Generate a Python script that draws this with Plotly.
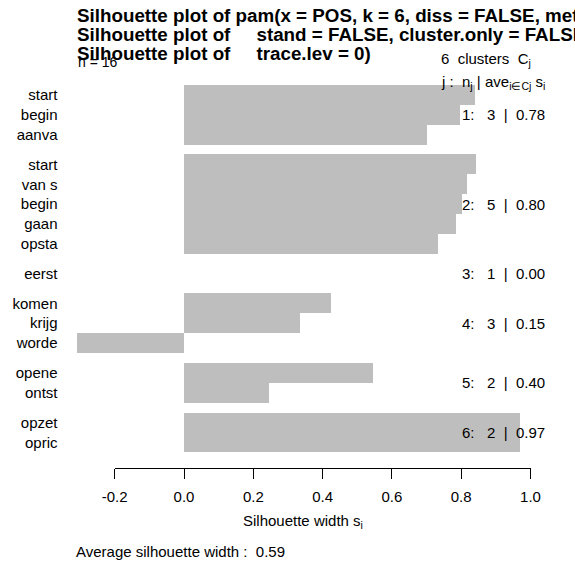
import plotly.graph_objects as go

# Silhouette widths of the 16 observations, grouped by PAM cluster
names = ["start", "begin", "aanva",
         "start", "van s", "begin", "gaan", "opsta",
         "eerst",
         "komen", "krijg", "worde",
         "opene", "ontst",
         "opzet", "opric"]
clusters = [1, 1, 1, 2, 2, 2, 2, 2, 3, 4, 4, 4, 5, 5, 6, 6]
widths = [0.840, 0.797, 0.700,
          0.843, 0.818, 0.801, 0.784, 0.733,
          0.000,
          0.424, 0.335, -0.310,
          0.545, 0.246,
          0.969, 0.969]

axis_ticks = [-0.2, 0.0, 0.2, 0.4, 0.6, 0.8, 1.0]
axis_ticktext = ["-0.2", "0.0", "0.2", "0.4", "0.6", "0.8", "1.0"]

title_lines = [
    "Silhouette plot of pam(x = POS, k = 6, diss = FALSE, metric = \"euclidean\",",
    "Silhouette plot of\u00a0\u00a0\u00a0\u00a0\u00a0stand = FALSE, cluster.only = FALSE,",
    "Silhouette plot of\u00a0\u00a0\u00a0\u00a0\u00a0trace.lev = 0)",
]

FONT = "Liberation Sans, Arial, sans-serif"
BAR = "#BEBEBE"
INK = "#000000"
W, H = 575, 565

# bar slots: one unit per observation, half a unit between clusters
slots = []
pos = 0.0
for i, c in enumerate(clusters):
    if i > 0 and c != clusters[i - 1]:
        pos += 0.5
    slots.append(pos)
    pos += 1.0

# per-cluster summary
cluster_ids = sorted(set(clusters))
summary = []
for j in cluster_ids:
    idx = [i for i, c in enumerate(clusters) if c == j]
    vals = [widths[i] for i in idx]
    avg = sum(vals) / len(vals)
    mid = (slots[idx[0]] + slots[idx[-1]]) / 2
    summary.append((j, len(vals), avg, mid))
overall = sum(widths) / len(widths)

# pixel geometry of the panel
X0_PX, X_UNIT = 184.0, 346.5        # x = 0 position and px per unit
Y_TOP_PX, Y_UNIT = 85.0, 19.85      # top edge of first bar and px per slot
x_range = [-X0_PX / X_UNIT, (W - X0_PX) / X_UNIT]
y_range = [-0.5 + (H - Y_TOP_PX) / Y_UNIT, -0.5 - Y_TOP_PX / Y_UNIT]


def px_x(v):
    return (X0_PX + v * X_UNIT) / W


fig = go.Figure()
fig.add_trace(go.Bar(
    x=widths, y=slots, orientation="h", width=1.0,
    marker=dict(color=BAR, line=dict(width=0)),
    hoverinfo="skip", showlegend=False,
))
# carrier so the silhouette-width axis gets drawn
fig.add_trace(go.Scatter(
    x=[None], y=[None], xaxis="x2", yaxis="y", mode="markers",
    hoverinfo="skip", showlegend=False,
))

annotations = []
# title block
for k, line in enumerate(title_lines):
    annotations.append(dict(
        text="<b>" + line + "</b>", xref="paper", yref="paper",
        x=75 / W, y=1 - (15.5 + 19 * k) / H, xanchor="left", yanchor="middle",
        showarrow=False, font=dict(family=FONT, size=18.8, color=INK),
    ))
annotations.append(dict(
    text="n = %d" % len(widths), xref="paper", yref="paper",
    x=76 / W, y=1 - 62 / H, xanchor="left", yanchor="middle",
    showarrow=False, font=dict(family=FONT, size=14, color=INK),
))
annotations.append(dict(
    text="%d\u00a0\u00a0clusters\u00a0\u00a0C<sub>j</sub>" % len(cluster_ids),
    xref="paper", yref="paper", x=533 / W, y=1 - 60 / H,
    xanchor="right", yanchor="middle", showarrow=False,
    font=dict(family=FONT, size=15, color=INK),
))
annotations.append(dict(
    text="j :\u00a0\u00a0n<sub>j</sub>\u00a0|\u00a0ave<sub>i\u2208Cj</sub>\u00a0s<sub>i</sub>",
    xref="paper", yref="paper", x=547 / W, y=1 - 83 / H,
    xanchor="right", yanchor="middle", showarrow=False,
    font=dict(family=FONT, size=15, color=INK),
))
# cluster summaries on the right
for j, n, avg, mid in summary:
    annotations.append(dict(
        text="%d:\u00a0\u00a0\u00a0%d\u00a0\u00a0|\u00a0\u00a0%.2f" % (j, n, avg),
        xref="paper", yref="y", x=547 / W, y=mid,
        xanchor="right", yanchor="middle", showarrow=False,
        font=dict(family=FONT, size=15, color=INK),
    ))
# axis title and footer
annotations.append(dict(
    text="Silhouette width s<sub>i</sub>", xref="paper", yref="paper",
    x=302.5 / W, y=1 - 521 / H, xanchor="center", yanchor="middle",
    showarrow=False, font=dict(family=FONT, size=15, color=INK),
))
annotations.append(dict(
    text="Average silhouette width :\u00a0\u00a0%.2f" % overall,
    xref="paper", yref="paper", x=74 / W, y=1 - 551 / H,
    xanchor="left", yanchor="middle", showarrow=False,
    font=dict(family=FONT, size=15, color=INK),
))

fig.update_layout(
    width=W, height=H, margin=dict(l=0, r=0, t=0, b=0, autoexpand=False),
    paper_bgcolor="white", plot_bgcolor="rgba(0,0,0,0)",
    bargap=0, showlegend=False,
    font=dict(family=FONT, size=15, color=INK),
    xaxis=dict(range=x_range, domain=[0, 1], visible=False,
               fixedrange=True, automargin=False),
    xaxis2=dict(
        domain=[px_x(-0.2), px_x(1.0)], range=[-0.2, 1.0],
        anchor="free", position=1 - 468.3 / H,
        tickvals=axis_ticks, ticktext=axis_ticktext,
        showline=True, linecolor=INK, linewidth=1,
        ticks="outside", ticklen=10, tickwidth=1, tickcolor=INK,
        ticklabelstandoff=5,
        tickfont=dict(family=FONT, size=15, color=INK),
        showgrid=False, zeroline=False, fixedrange=True, automargin=False,
    ),
    yaxis=dict(
        range=y_range, domain=[0, 1], anchor="free", position=57.5 / W,
        tickvals=slots, ticktext=names, ticks="",
        tickfont=dict(family=FONT, size=15, color=INK),
        showgrid=False, zeroline=False, showline=False,
        fixedrange=True, automargin=False,
    ),
    annotations=annotations,
)

fig.write_html("out.html")
